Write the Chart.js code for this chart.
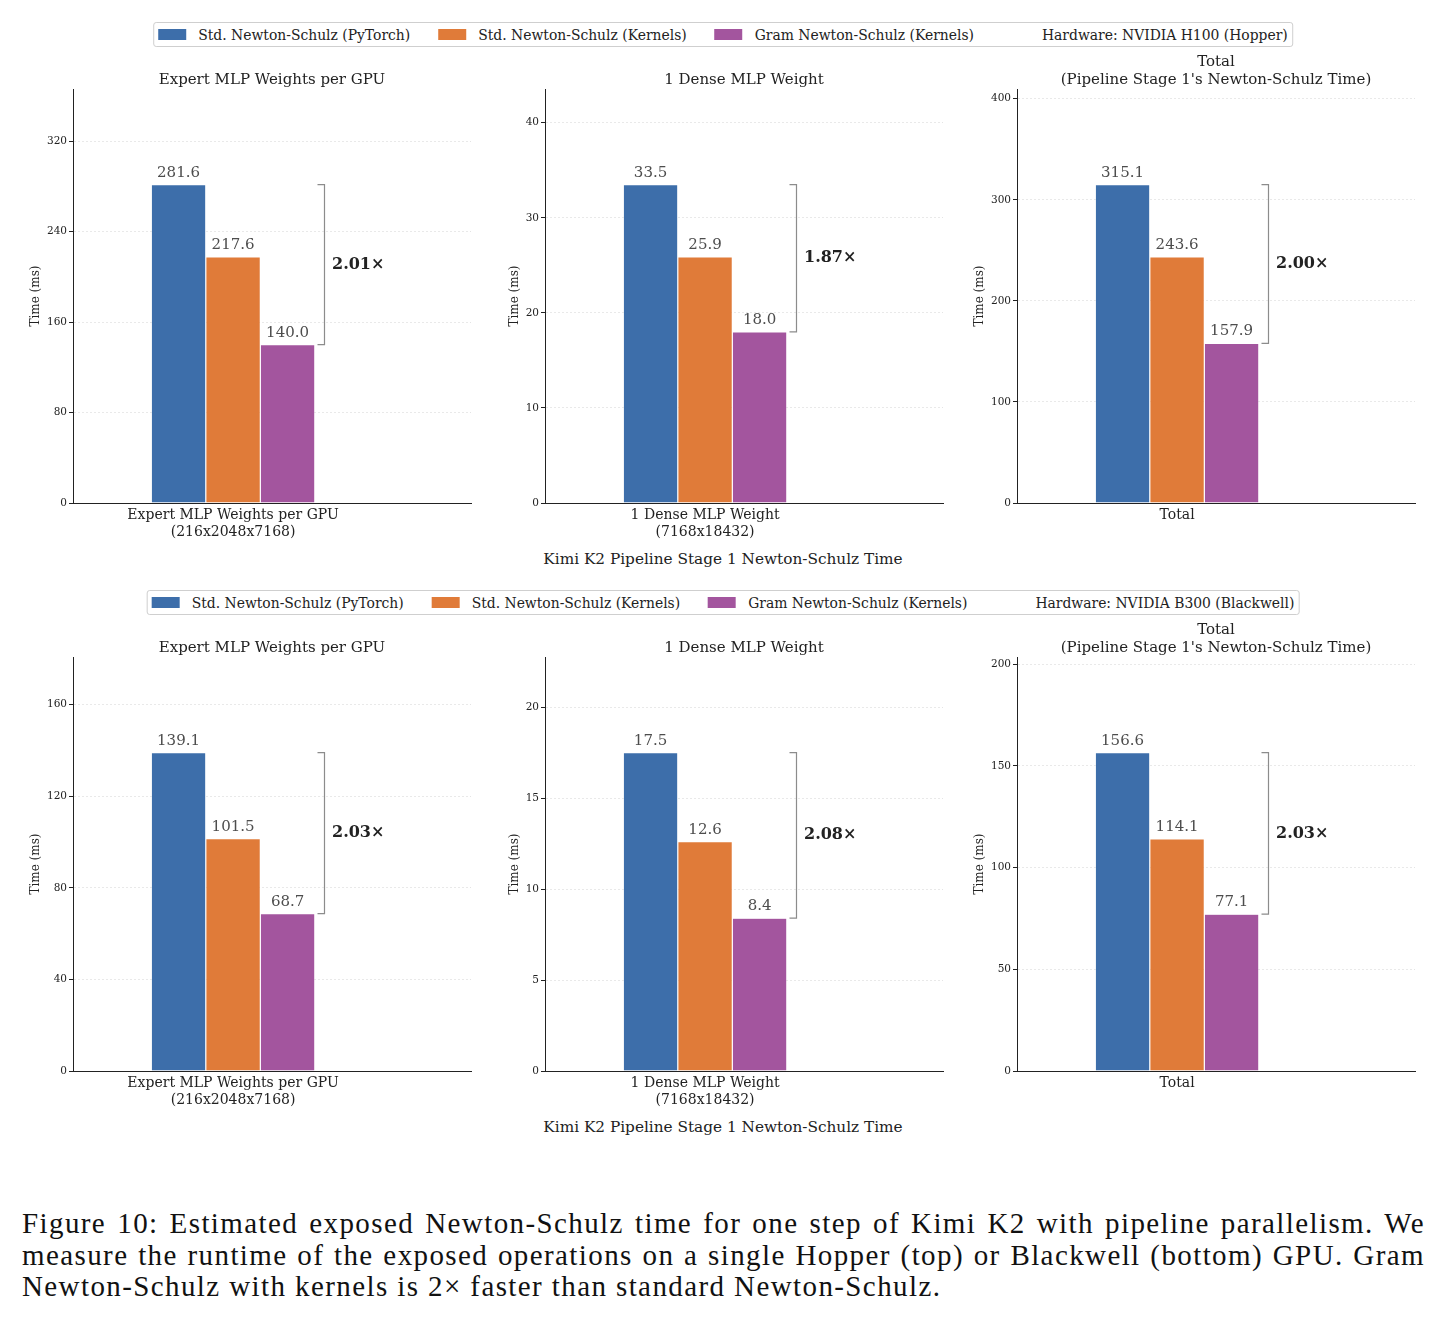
<!DOCTYPE html>
<html>
<head>
<meta charset="utf-8">
<script src="https://cdn.jsdelivr.net/npm/chart.js@4.4.1/dist/chart.umd.min.js"></script>
<style>
  body { margin: 0; background: #fff; width: 1440px; height: 1342px; position: relative; overflow: hidden;
         font-family: "DejaVu Serif", serif; color: #222; }
  .legend { position: absolute; height: 25px; box-sizing: border-box; border: 1px solid #cfcfcf; border-radius: 3px;
            display: flex; align-items: center; padding: 0 4px; font-size: 13.9px; background: #fff;
            transform: translateX(-50%); white-space: nowrap; }
  .legend .item { display: flex; align-items: center; margin-right: 28px; }
  .legend .item:last-child { margin-right: 0; }
  .legend .sw { width: 28px; height: 11px; margin-right: 12px; }
  .panel { position: absolute; width: 472px; height: 500px; }
  .supx { position: absolute; left: 0; width: 1446px; text-align: center; font-size: 15.3px; }
  .caption { position: absolute; left: 22px; top: 1208px; width: 1403px;
             font-family: "Liberation Serif", serif; font-size: 29px; line-height: 31.5px; letter-spacing: 1.4px; color: #111; }
  .caption div { white-space: nowrap; }
</style>
</head>
<body>
<div class="caption">
  <div class="just"><span>Figure 10: Estimated exposed Newton-Schulz time for one step of Kimi K2 with pipeline parallelism. We</span></div>
  <div class="just"><span>measure the runtime of the exposed operations on a single Hopper (top) or Blackwell (bottom) GPU. Gram</span></div>
  <div><span>Newton-Schulz with kernels is 2× faster than standard Newton-Schulz.</span></div>
</div>
<script>
const categories = ['Expert MLP Weights per GPU', '1 Dense MLP Weight', 'Total'];
const categoryShapes = ['(216x2048x7168)', '(7168x18432)', ''];
const panelTitles = ['Expert MLP Weights per GPU', '1 Dense MLP Weight', ['Total', "(Pipeline Stage 1's Newton-Schulz Time)"]];
const seriesNames = ['Std. Newton-Schulz (PyTorch)', 'Std. Newton-Schulz (Kernels)', 'Gram Newton-Schulz (Kernels)'];
const seriesColors = ['#3d6eaa', '#e07b39', '#a3559e'];
const bottomLabel = 'Kimi K2 Pipeline Stage 1 Newton-Schulz Time';

// H100 (top row)
const h100PyTorch = [281.6, 33.5, 315.1];
const h100StdKernels = [217.6, 25.9, 243.6];
const h100Gram = [140.0, 18.0, 157.9];
const h100Speedup = [2.01, 1.87, 2.00];
const h100Ticks = [[0, 80, 160, 240, 320], [0, 10, 20, 30, 40], [0, 100, 200, 300, 400]];

// B300 (bottom row)
const b300PyTorch = [139.1, 17.5, 156.6];
const b300StdKernels = [101.5, 12.6, 114.1];
const b300Gram = [68.7, 8.4, 77.1];
const b300Speedup = [2.03, 2.08, 2.03];
const b300Ticks = [[0, 40, 80, 120, 160], [0, 5, 10, 15, 20], [0, 50, 100, 150, 200]];

const rows = [
  { hardware: 'Hardware: NVIDIA H100 (Hopper)', series: [h100PyTorch, h100StdKernels, h100Gram],
    speedup: h100Speedup, ticks: h100Ticks, offset: 0 },
  { hardware: 'Hardware: NVIDIA B300 (Blackwell)', series: [b300PyTorch, b300StdKernels, b300Gram],
    speedup: b300Speedup, ticks: b300Ticks, offset: 568 }
];

const FONT = '"DejaVu Serif", serif';
const xMin = -0.734, xMax = 1.091, groupWidth = 0.75;

// justify the first two caption lines to the full width
document.querySelectorAll('.caption .just').forEach(line => {
  const span = line.firstChild;
  const gaps = span.textContent.split(' ').length - 1;
  const extra = (1403 - span.getBoundingClientRect().width) / gaps;
  line.style.wordSpacing = extra + 'px';
});

// value printed above each bar
const barLabels = {
  id: 'barLabels',
  afterDatasetsDraw(chart) {
    const ctx = chart.ctx;
    ctx.save();
    ctx.font = '15px ' + FONT;
    ctx.fillStyle = '#4d4d4d';
    ctx.textAlign = 'center';
    ctx.textBaseline = 'alphabetic';
    chart.data.datasets.forEach((ds, i) => {
      chart.getDatasetMeta(i).data.forEach((bar, j) => {
        ctx.fillText(ds.data[j].y.toFixed(1), bar.x, bar.y - 8);
      });
    });
    ctx.restore();
  }
};

// bracket between first and last bar with the speedup
const speedBracket = {
  id: 'speedBracket',
  afterDatasetsDraw(chart, args, opts) {
    const hi = chart.getDatasetMeta(0).data[0];
    const lo = chart.getDatasetMeta(2).data[0];
    const x = Math.round(lo.x + lo.width / 2 + 9) + 0.5;
    const ctx = chart.ctx;
    ctx.save();
    ctx.strokeStyle = '#8c8c8c';
    ctx.lineWidth = 1.2;
    ctx.beginPath();
    ctx.moveTo(x - 7, hi.y);
    ctx.lineTo(x, hi.y);
    ctx.lineTo(x, lo.y);
    ctx.lineTo(x - 7, lo.y);
    ctx.stroke();
    ctx.font = 'bold 16px ' + FONT;
    ctx.fillStyle = '#222';
    ctx.textAlign = 'left';
    ctx.textBaseline = 'middle';
    ctx.fillText(opts.value.toFixed(2) + '×', x + 7.5, (hi.y + lo.y) / 2);
    ctx.restore();
  }
};

function addLegend(row) {
  const box = document.createElement('div');
  box.className = 'legend';
  box.style.left = '723px';
  box.style.top = (22 + row.offset) + 'px';
  const names = seriesNames.concat([row.hardware]);
  names.forEach((name, i) => {
    const item = document.createElement('div');
    item.className = 'item';
    const sw = document.createElement('div');
    sw.className = 'sw';
    sw.style.background = seriesColors[i] || 'transparent';
    const label = document.createElement('span');
    label.textContent = name;
    item.appendChild(sw);
    item.appendChild(label);
    box.appendChild(item);
  });
  document.body.appendChild(box);

  const sup = document.createElement('div');
  sup.className = 'supx';
  sup.style.top = (550 + row.offset) + 'px';
  sup.textContent = bottomLabel;
  document.body.appendChild(sup);
}

function makePanel(row, k) {
  const wrap = document.createElement('div');
  wrap.className = 'panel';
  wrap.style.left = (472 * k) + 'px';
  wrap.style.top = (50 + row.offset) + 'px';
  const canvas = document.createElement('canvas');
  canvas.width = 472;
  canvas.height = 500;
  wrap.appendChild(canvas);
  document.body.appendChild(wrap);

  const values = row.series.map(s => s[k]);
  const ticks = row.ticks[k];
  const digits = String(Math.max(...ticks)).length;
  const twoLineTitle = Array.isArray(panelTitles[k]);

  new Chart(canvas, {
    type: 'bar',
    data: {
      datasets: row.series.map((s, i) => ({
        label: seriesNames[i],
        data: [{ x: 0, y: s[k] }],
        backgroundColor: seriesColors[i],
        borderColor: 'rgba(255,255,255,0.22)',
        borderWidth: 0.6,
        categoryPercentage: groupWidth / (xMax - xMin),
        barPercentage: 1
      }))
    },
    plugins: [barLabels, speedBracket],
    options: {
      responsive: false,
      animation: false,
      events: [],
      layout: { padding: { left: 0, right: 1, top: 0, bottom: 0 } },
      plugins: {
        legend: { display: false },
        tooltip: { enabled: false },
        title: {
          display: true,
          text: panelTitles[k],
          fullSize: false,
          color: '#222',
          font: { family: FONT, size: 15, weight: 'normal', lineHeight: 1.2 },
          padding: { top: twoLineTitle ? 3 : 21, bottom: 0 }
        },
        speedBracket: { value: row.speedup[k] }
      },
      scales: {
        x: {
          type: 'linear',
          min: xMin,
          max: xMax,
          offset: false,
          bounds: 'data',
          afterBuildTicks: scale => { scale.ticks = [{ value: 0 }]; },
          afterFit: scale => { scale.height = 47; },
          grid: { display: false, drawTicks: false, offset: false },
          border: { display: true, color: '#222', width: 1 },
          ticks: {
            color: '#222',
            padding: 4,
            maxRotation: 0,
            autoSkip: false,
            font: { family: FONT, size: 14, lineHeight: 1.22 },
            callback: () => categoryShapes[k] ? [categories[k], categoryShapes[k]] : categories[k]
          }
        },
        y: {
          min: 0,
          max: Math.max(...values) * 1.3,
          afterBuildTicks: scale => { scale.ticks = ticks.map(v => ({ value: v })); },
          afterFit: scale => { scale.width = 73; },
          grid: { color: '#e4e4e4', lineWidth: 0.8, tickLength: 4, tickColor: '#222', tickWidth: 1 },
          border: { display: true, color: '#222', width: 1, dash: [2, 2] },
          ticks: {
            color: '#222',
            padding: 2,
            font: { family: FONT, size: 10.5 },
            callback: v => String(v)
          },
          title: {
            display: true,
            text: 'Time (ms)',
            color: '#222',
            font: { family: FONT, size: 12 },
            padding: { top: 29 + (3 - digits) * 6.5, bottom: 0 }
          }
        }
      }
    }
  });
}

rows.forEach(row => {
  addLegend(row);
  [0, 1, 2].forEach(k => makePanel(row, k));
});
</script>
</body>
</html>
